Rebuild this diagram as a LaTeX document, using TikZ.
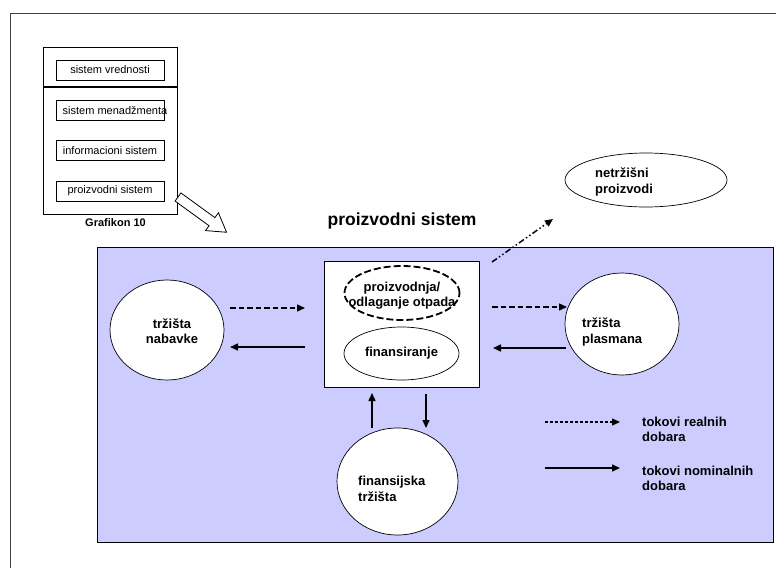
\documentclass[tikz,border=0pt]{standalone}
\usepackage{fontspec}
\setmainfont{Liberation Sans}
\usetikzlibrary{arrows.meta,shapes.geometric}
\definecolor{sysblue}{RGB}{204,204,255}
\begin{document}
\begin{tikzpicture}[x=1pt,y=-1pt,
  lbl/.style={font=\fontsize{13}{15.5}\selectfont\bfseries, inner sep=0pt},
  smalltxt/.style={font=\fontsize{11}{13}\selectfont, inner sep=0pt},
  smallbox/.style={draw, line width=0.8pt, minimum width=108pt, minimum height=20pt, inner sep=0pt, font=\fontsize{11}{13}\selectfont},
  market/.style={draw, ellipse, fill=white, line width=0.7pt, inner sep=0pt},
  flow/.style={line width=1.5pt, -{Triangle[length=8pt,width=7pt]}},
  realflow/.style={flow, dash pattern=on 5.5pt off 3pt},
  legendreal/.style={flow, dash pattern=on 3pt off 2pt},
  outflow/.style={flow, dash pattern=on 6pt off 2.5pt on 1.5pt off 2.5pt on 1.5pt off 2.5pt},
]
\useasboundingbox (0,0) rectangle (776,568);

% outer frame (open to the right and bottom)
\draw[line width=1pt, black!75] (10,568) -- (10,13) -- (776,13);

% small overview panel
\node[draw, line width=0.8pt, minimum width=134pt, minimum height=167pt, inner sep=0pt] (panel) at (110,130.5) {};
\draw[line width=1.6pt] (43,87) -- (177,87);
\node[smallbox] (sv) at (110,70) {sistem vrednosti};
\node[smallbox] (smb) at (110,110) {};
\node[smalltxt] (smt) at (115,110.5) {sistem menad\v{z}menta};
\node[smallbox] (si) at (110,150.5) {informacioni sistem};
\node[smallbox] (sp) at (110,191) {proizvodni sistem};
\node[font=\fontsize{11}{13}\selectfont\bfseries, inner sep=0pt] (graf) at (115.5,223) {Grafikon 10};

% hollow block arrow pointing at the enlarged system
\filldraw[fill=white, line width=0.8pt, shift={(178,197)}, rotate=-36]
  (0,-5) -- (42,-5) -- (42,-11) -- (60,0) -- (42,11) -- (42,5) -- (0,5) -- cycle;

% title
\node[font=\fontsize{17.5}{20}\selectfont\bfseries, inner sep=0pt] (title) at (402,221) {proizvodni sistem};

% production system area
\node[draw, fill=sysblue, line width=1pt, minimum width=676pt, minimum height=295pt, inner sep=0pt] (sys) at (435,394.5) {};

% enterprise core
\node[draw, fill=white, line width=0.8pt, minimum width=155pt, minimum height=126pt, inner sep=0pt] (core) at (401.5,324) {};
\node[ellipse, draw, line width=1.8pt, dash pattern=on 7pt off 3pt, minimum width=115pt, minimum height=54pt, inner sep=0pt] (prod) at (402,293) {};
\node[lbl, align=center] (prodtxt) at (402,295.5) {proizvodnja/\\odlaganje otpada};
\node[market, minimum width=115pt, minimum height=53pt, lbl] (fin) at (401.5,353.5) {finansiranje};

% markets
\node[market, minimum width=114pt, minimum height=100pt] (nab) at (167,330) {};
\node[lbl, align=center] (nabtxt) at (172,331) {tr\v{z}i\v{s}ta\\nabavke};
\node[market, minimum width=114pt, minimum height=102pt] (pla) at (622,324) {};
\node[lbl, align=left, anchor=west] (platxt) at (582,332) {tr\v{z}i\v{s}ta\\plasmana};
\node[market, minimum width=121pt, minimum height=107pt] (fm) at (397.5,481.5) {};
\node[lbl, align=left, anchor=west] (fmtxt) at (358,489) {finansijska\\tr\v{z}i\v{s}ta};
\node[market, minimum width=162pt, minimum height=54pt] (net) at (646,180) {};
\node[lbl, align=left, anchor=west] (nettxt) at (595,182) {netr\v{z}i\v{s}ni\\proizvodi};

% connector end points
\coordinate (nabR) at (230,308);   \coordinate (coreLr) at (305,308);
\coordinate (coreLn) at (305,347); \coordinate (nabN) at (230,347);
\coordinate (coreRr) at (492,307); \coordinate (plaR) at (567,307);
\coordinate (plaN) at (566,348);   \coordinate (coreRn) at (493,348);
\coordinate (fmUp) at (372,428);   \coordinate (coreUp) at (372,393);
\coordinate (coreDn) at (426,394); \coordinate (fmDn) at (426,428);
\coordinate (coreOut) at (492,262); \coordinate (netIn) at (553,219);

\draw[realflow] (nabR) -- (coreLr);
\draw[flow] (coreLn) -- (nabN);
\draw[realflow] (coreRr) -- (plaR);
\draw[flow] (plaN) -- (coreRn);
\draw[flow] (fmUp) -- (coreUp);
\draw[flow] (coreDn) -- (fmDn);
\draw[outflow] (coreOut) -- (netIn);

% legend
\coordinate (lg1a) at (545,422); \coordinate (lg1b) at (620,422);
\coordinate (lg2a) at (545,468); \coordinate (lg2b) at (620,468);
\draw[legendreal] (lg1a) -- (lg1b);
\draw[flow] (lg2a) -- (lg2b);
\node[lbl, align=left, anchor=west] (lg1txt) at (642,429.5) {tokovi realnih\\dobara};
\node[lbl, align=left, anchor=west] (lg2txt) at (642,478.5) {tokovi nominalnih\\dobara};
\end{tikzpicture}
\end{document}
